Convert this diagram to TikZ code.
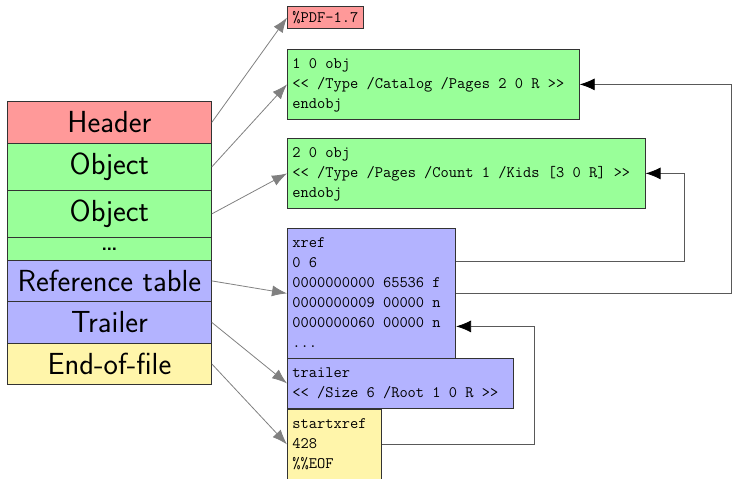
\documentclass[tikz,border=0pt]{standalone}
\usepackage{amsmath,amssymb}
\usetikzlibrary{arrows.meta,positioning}
\definecolor{hdrred}{RGB}{255,153,153}
\definecolor{objgreen}{RGB}{153,255,153}
\definecolor{refblue}{RGB}{179,179,255}
\definecolor{eofyellow}{RGB}{255,245,170}
\newcommand{\codelines}[1]{\begin{tabular}{@{}l@{\hspace{10pt}}}#1\end{tabular}}

\begin{document}
\begin{tikzpicture}[x=1pt,y=-1pt,
	part/.style={draw=black!80,line width=0.8pt,minimum width=204pt,inner sep=0pt,anchor=north west,font=\fontsize{30.5}{32}\sffamily},
	code/.style={draw=black!80,line width=0.8pt,inner xsep=5pt,inner ysep=5pt,anchor=north west,font=\fontsize{16}{20}\ttfamily},
	link/.style={gray,line width=0.8pt,-{Latex[length=15pt,width=11pt]}},
	xlink/.style={black!65,line width=0.8pt,-{Latex[length=15pt,width=12pt,black]}}]
	\useasboundingbox (0,0) rectangle (732,479);
	\node[part,fill=hdrred,minimum height=42pt] (header) at (7,101) {Header};
	\node[part,fill=objgreen,minimum height=47pt] (obja) at (7,143) {Object};
	\node[part,fill=objgreen,minimum height=47pt] (objb) at (7,190) {Object};
	\node[part,fill=objgreen,minimum height=23pt] (dots) at (7,237) {\dots};
	\node[part,fill=refblue,minimum height=41pt] (reftab) at (7,260) {Reference table};
	\node[part,fill=refblue,minimum height=42pt] (trail) at (7,301) {Trailer};
	\node[part,fill=eofyellow,minimum height=41pt] (eof) at (7,343) {End-of-file};

	\node[code,fill=hdrred] (pdfhdr) at (287,6) {\%PDF-1.7};
	\node[code,fill=objgreen] (catalog) at (287,49) {\codelines{1 0 obj\\<< /Type /Catalog /Pages 2 0 R >>\\endobj}};
	\node[code,fill=objgreen] (pages) at (287,138) {\codelines{2 0 obj\\<< /Type /Pages /Count 1 /Kids [3 0 R] >>\\endobj}};
	\node[code,fill=refblue] (xref) at (287,228) {\codelines{xref\\0 6\\0000000000 65536 f\\0000000009 00000 n\\0000000060 00000 n\\...}};
	\node[code,fill=refblue] (trailer) at (287,358) {\codelines{trailer\\<< /Size 6 /Root 1 0 R >>}};
	\node[code,fill=eofyellow] (startx) at (287,409) {\codelines{startxref\\428\\\%\%EOF}};

	\draw[link] (header.east) -- (pdfhdr.west);
	\draw[link] (obja.east) -- (catalog.west);
	\draw[link] (objb.east) -- (pages.west);
	\draw[link] (reftab.east) -- (xref.west);
	\draw[link] (trail.east) -- (trailer.west);
	\draw[link] (eof.east) -- (startx.west);

	\draw[xlink] ([yshift=32pt]xref.east) -- ++(228,0) |- (pages.east);
	\draw[xlink] (xref.east) -- ++(275,0) |- (catalog.east);
	\draw[xlink] (startx.east) -- ++(152,0) |- ([yshift=-33pt]xref.east);
\end{tikzpicture}
\end{document}
